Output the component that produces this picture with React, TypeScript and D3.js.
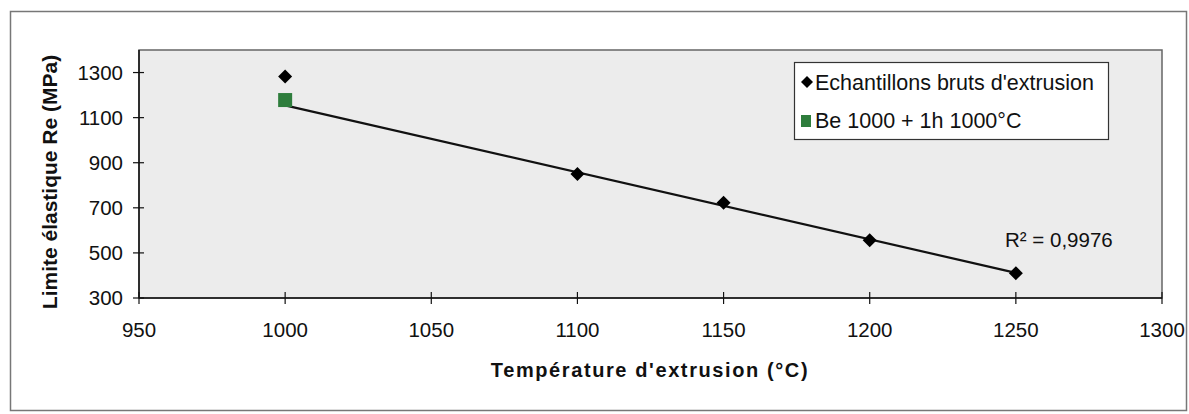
import React from "react";
import * as d3 from "d3";

const tempsRaw = [1000, 1100, 1150, 1200, 1250];
const reRaw = [1282, 850, 722, 556, 410];
const tempsTreated = [1000];
const reTreated = [1178];
// linear trendline fitted on the raw samples from 1100°C, extended back to 1000°C
const trendFitFrom = 1100;
const trendStart = 1000;
const xTicks = [950, 1000, 1050, 1100, 1150, 1200, 1250, 1300];
const yTicks = [300, 500, 700, 900, 1100, 1300];
const legendLabels = ["Echantillons bruts d'extrusion", "Be 1000 + 1h 1000°C"];
const r2Label = "R² = 0,9976";

const W = 1189, H = 414;
const M = { left: 139, right: 1162, top: 50, bottom: 298 };

export default function App() {
  const x = d3.scaleLinear().domain([950, 1300]).range([M.left, M.right]);
  const y = d3.scaleLinear().domain([300, 1400]).range([M.bottom, M.top]);

  const idx = tempsRaw.map((_, i) => i).filter((i) => tempsRaw[i] >= trendFitFrom);
  const fitX = idx.map((i) => tempsRaw[i]);
  const fitY = idx.map((i) => reRaw[i]);
  const mx = d3.mean(fitX)!, my = d3.mean(fitY)!;
  const slope = d3.sum(fitX.map((v, i) => (v - mx) * (fitY[i] - my))) / d3.sum(fitX.map((v) => (v - mx) ** 2));
  const icpt = my - slope * mx;
  const ends = [trendStart, d3.max(fitX)!];
  const line = d3.line<number>().x((d) => x(d)).y((d) => y(icpt + slope * d));

  const dia = (r: number) => `M0,${-r}L${r},0L0,${r}L${-r},0Z`;
  const font = "Arial, 'Liberation Sans', sans-serif";

  return (
    <svg width={W} height={H} style={{ position: "absolute", left: 0, top: 0 }} fontFamily={font}>
      <rect x={0} y={0} width={W} height={H} fill="#fff" />
      <rect x={10.5} y={11.5} width={1176} height={399} fill="#fff" stroke="#777" strokeWidth={1.5} />
      <rect x={M.left} y={M.top} width={M.right - M.left} height={M.bottom - M.top} fill="#ececec" stroke="#666" strokeWidth={1.5} />
      <line x1={M.left} x2={M.left} y1={M.top} y2={M.bottom} stroke="#111" strokeWidth={1.5} />
      <line x1={M.left} x2={M.right} y1={M.bottom} y2={M.bottom} stroke="#111" strokeWidth={1.5} />
      {yTicks.map((t) => (
        <g key={"y" + t}>
          <line x1={M.left - 6} x2={M.left + 5} y1={y(t)} y2={y(t)} stroke="#111" strokeWidth={1.2} />
          <text x={123} y={y(t)} dy="0.36em" textAnchor="end" fontSize={20.5} fill="#111">{t}</text>
        </g>
      ))}
      {xTicks.map((t) => (
        <g key={"x" + t}>
          <line x1={x(t)} x2={x(t)} y1={M.bottom - 6} y2={M.bottom + 6} stroke="#111" strokeWidth={1.2} />
          <text x={x(t)} y={M.bottom + 38.5} textAnchor="middle" fontSize={20.5} fill="#111">{t}</text>
        </g>
      ))}
      <path d={line(ends) || ""} fill="none" stroke="#111" strokeWidth={2.2} />
      {tempsRaw.map((t, i) => (
        <path key={"d" + i} d={dia(7)} transform={`translate(${x(t)},${y(reRaw[i])})`} fill="#000" />
      ))}
      {tempsTreated.map((t, i) => (
        <rect key={"s" + i} x={x(t) - 7} y={y(reTreated[i]) - 7} width={14} height={14} fill="#2e7d3c" />
      ))}
      <text x={1005} y={247} fontSize={20.5} fill="#111">{r2Label}</text>
      <rect x={794.5} y={62.5} width={314} height={77} fill="#fff" stroke="#333" strokeWidth={1.2} />
      <path d={dia(6)} transform="translate(807,82)" fill="#000" />
      <text x={815} y={82} dy="0.36em" fontSize={21.5} fill="#111">{legendLabels[0]}</text>
      <rect x={801} y={115} width={10} height={12} fill="#2e7d3c" />
      <text x={815} y={120} dy="0.36em" fontSize={21.5} fill="#111">{legendLabels[1]}</text>
      <text x={650} y={377} textAnchor="middle" fontSize={20} fontWeight="bold" letterSpacing={1.6} fill="#111">
        Température d'extrusion (°C)
      </text>
      <text transform="translate(57,182) rotate(-90)" textAnchor="middle" fontSize={21} fontWeight="bold" fill="#111">
        Limite élastique Re (MPa)
      </text>
    </svg>
  );
}
